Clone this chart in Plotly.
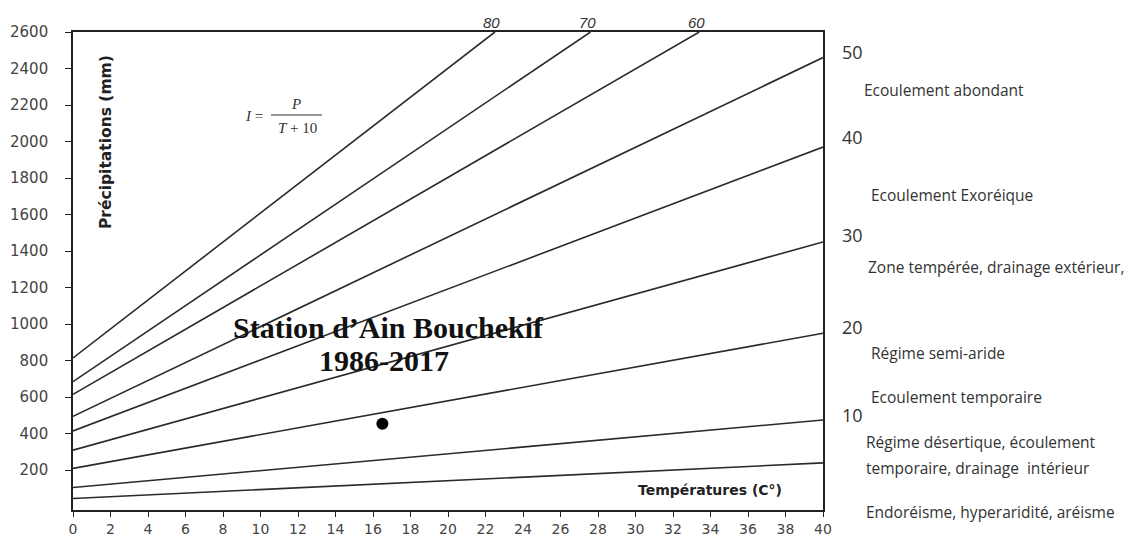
import plotly.graph_objects as go

# ---- data ----
index_values = [5, 10, 20, 30, 40, 50, 60, 70, 80]
t_start = [0, 0, 0, 0, 0, 0, 0, 0, 0]
p_start = [45, 105, 210, 310, 415, 495, 615, 685, 815]
t_end = [40, 40, 40, 40, 40, 40, 33.4, 27.6, 22.5]
p_end = [240, 475, 950, 1450, 1970, 2460, 2600, 2600, 2600]

station_T = [16.5]
station_P = [455]

x_ticks = list(range(0, 41, 2))
y_ticks = list(range(200, 2601, 200))

top_labels = ["80", "70", "60"]
right_index_labels = ["50", "40", "30", "20", "10"]
zone_texts = [
    "Ecoulement abondant",
    "Ecoulement Exoréique",
    "Zone tempérée, drainage extérieur,",
    "Régime semi-aride",
    "Ecoulement temporaire",
    "Régime désertique, écoulement",
    "temporaire, drainage  intérieur",
    "Endoréisme, hyperaridité, aréisme",
]

# ---- layout geometry (pixels) ----
W, H = 1138, 537
L, R, T, B = 73, 823, 32, 510


def px(x):
    return (x - L) / (R - L)


def py(y):
    return (B - y) / (B - T)


fig = go.Figure()

for i in range(len(index_values)):
    fig.add_trace(go.Scatter(
        x=[t_start[i], t_end[i]], y=[p_start[i], p_end[i]],
        mode="lines", line=dict(color="#2a2a2a", width=1.6),
        showlegend=False, hoverinfo="skip", cliponaxis=False,
    ))

fig.add_trace(go.Scatter(
    x=station_T, y=station_P, mode="markers",
    marker=dict(color="black", size=12), showlegend=False,
))

ann = []
# labels on top of the steep lines
for lab in top_labels:
    idx = index_values.index(int(lab))
    ann.append(dict(x=t_end[idx], y=p_end[idx], xref="x", yref="y",
                    text="<i>" + lab + "</i>", showarrow=False,
                    xanchor="center", yanchor="bottom", xshift=-3, yshift=-1,
                    font=dict(family="Liberation Sans", size=15, color="#333")))

# right-side index labels
right_index_py = [52, 137, 235, 327, 415]
for lab, yy in zip(right_index_labels, right_index_py):
    ann.append(dict(x=px(840), y=py(yy), xref="paper", yref="paper",
                    text=lab, showarrow=False, xanchor="left", yanchor="middle",
                    font=dict(family="Open Sans", size=18, color="#333")))

zone_px = [862, 869, 866, 869, 869, 864, 864, 864]
zone_py = [90, 195, 267, 353, 397, 442, 468, 512]
for txt, xx, yy in zip(zone_texts, zone_px, zone_py):
    ann.append(dict(x=px(xx), y=py(yy), xref="paper", yref="paper",
                    text=txt, showarrow=False, xanchor="left", yanchor="middle",
                    font=dict(family="Open Sans", size=15.5, color="#333")))

# axis titles inside the plot
ann.append(dict(x=px(106), y=py(142), xref="paper", yref="paper",
                text="<b>Précipitations (mm)</b>", textangle=-90, showarrow=False,
                xanchor="center", yanchor="middle",
                font=dict(family="DejaVu Sans", size=15.5, color="#222")))
ann.append(dict(x=px(784), y=py(490), xref="paper", yref="paper",
                text="<b>Températures (C°)</b>", showarrow=False,
                xanchor="right", yanchor="middle",
                font=dict(family="DejaVu Sans", size=14, color="#222")))

# formula I = P / (T + 10)
ann.append(dict(x=px(254), y=py(116), xref="paper", yref="paper",
                text="<i>I</i> =", showarrow=False, xanchor="center", yanchor="middle",
                font=dict(family="Liberation Serif", size=15, color="#333")))
ann.append(dict(x=px(296), y=py(104), xref="paper", yref="paper",
                text="<i>P</i>", showarrow=False, xanchor="center", yanchor="middle",
                font=dict(family="Liberation Serif", size=15, color="#333")))
ann.append(dict(x=px(297), y=py(128), xref="paper", yref="paper",
                text="<i>T</i> + 10", showarrow=False, xanchor="center", yanchor="middle",
                font=dict(family="Liberation Serif", size=15, color="#333")))

# station title
ann.append(dict(x=px(388), y=py(327), xref="paper", yref="paper",
                text="<b>Station d’Ain Bouchekif</b>", showarrow=False,
                xanchor="center", yanchor="middle",
                font=dict(family="Liberation Serif", size=30, color="#111")))
ann.append(dict(x=px(384), y=py(360), xref="paper", yref="paper",
                text="<b>1986-2017</b>", showarrow=False,
                xanchor="center", yanchor="middle",
                font=dict(family="Liberation Serif", size=30, color="#111")))

fig.update_layout(
    width=W, height=H,
    margin=dict(l=L, r=W - R, t=T, b=H - B, pad=0, autoexpand=False),
    paper_bgcolor="white", plot_bgcolor="white",
    annotations=ann,
    shapes=[dict(type="line", xref="paper", yref="paper",
                 x0=px(271), x1=px(322), y0=py(115), y1=py(115),
                 line=dict(color="#333", width=1.2))],
    showlegend=False,
)

fig.update_xaxes(
    range=[0, 40], tickvals=x_ticks, ticktext=[str(v) for v in x_ticks],
    automargin=False,
    showgrid=False, zeroline=False, showline=True, mirror=True,
    linecolor="#222", linewidth=1.6, ticks="outside", ticklen=5,
    tickcolor="#222", tickwidth=1.2,
    tickfont=dict(family="DejaVu Sans", size=14, color="#444"),
)
fig.update_yaxes(
    range=[-18, 2600], tickvals=y_ticks, ticktext=[str(v) for v in y_ticks],
    automargin=False,
    showgrid=False, zeroline=False, showline=True, mirror=True,
    linecolor="#222", linewidth=1.6, ticks="outside", ticklen=6,
    tickcolor="#222", tickwidth=1.2, ticklabelstandoff=14,
    tickfont=dict(family="DejaVu Sans", size=15, color="#444"),
)

fig.write_html("out.html", config={"displayModeBar": False},
               post_script="document.body.style.margin='0';")
